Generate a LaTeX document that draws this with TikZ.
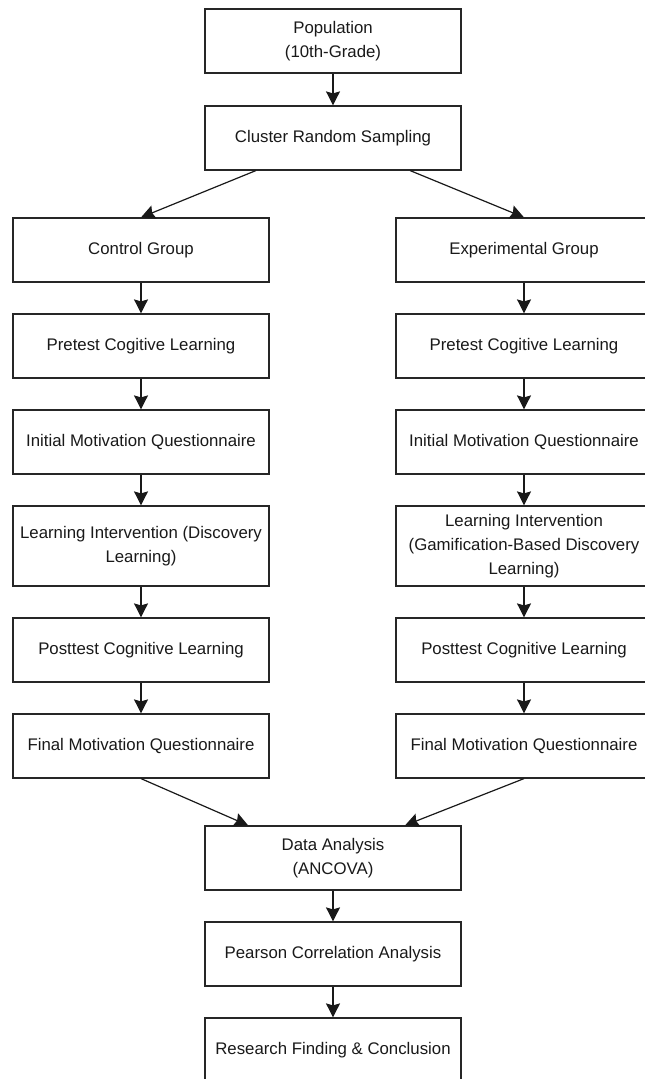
\documentclass[tikz,border=0pt]{standalone}
\usepackage{fontspec}
\setmainfont{Liberation Sans}
\usetikzlibrary{calc, arrows.meta}

\begin{document}
\begin{tikzpicture}[
  x=1pt, y=-1pt,
  font=\fontsize{16.8}{24}\selectfont,
  arrow/.style={-{Stealth[length=14pt, width=14pt, inset=2pt]}, line width=1.2pt, black!90},
  box/.style={draw=black!85, line width=1.2pt, minimum width=256pt, minimum height=64pt,
              align=center, inner sep=2pt, text=black!90},
  tallbox/.style={box, minimum height=80pt},
]
\useasboundingbox (0,0) rectangle (645,1079);
\clip (0,0) rectangle (645,1079);

% top
\node[box] (pop) at (333,41) {Population\\(10th-Grade)};
\node[box] (crs) at (333,138) {Cluster Random Sampling};

% control column
\node[box] (ctl) at (141,250) {Control Group};
\node[box] (pre1) at (141,346) {Pretest Cogitive Learning};
\node[box] (imq1) at (141,442) {Initial Motivation Questionnaire};
\node[tallbox] (int1) at (141,546) {Learning Intervention (Discovery\\Learning)};
\node[box] (post1) at (141,650) {Posttest Cognitive Learning};
\node[box] (fmq1) at (141,746) {Final Motivation Questionnaire};

% experimental column
\node[box] (exp) at (524,250) {Experimental Group};
\node[box] (pre2) at (524,346) {Pretest Cogitive Learning};
\node[box] (imq2) at (524,442) {Initial Motivation Questionnaire};
\node[tallbox] (int2) at (524,546) {Learning Intervention\\(Gamification-Based Discovery\\Learning)};
\node[box] (post2) at (524,650) {Posttest Cognitive Learning};
\node[box] (fmq2) at (524,746) {Final Motivation Questionnaire};

% analysis
\node[box] (ana) at (333,858) {Data Analysis\\(ANCOVA)};
\node[box] (pear) at (333,954) {Pearson Correlation Analysis};
\node[box] (res) at (333,1050) {Research Finding \& Conclusion};

\draw[arrow] (pop) -- (crs);
\draw[arrow] ($(crs.south west)!0.2!(crs.south east)$) -- (ctl.north);
\draw[arrow] ($(crs.south west)!0.8!(crs.south east)$) -- (exp.north);

\draw[arrow] (ctl) -- (pre1);
\draw[arrow] (pre1) -- (imq1);
\draw[arrow] (imq1) -- (int1);
\draw[arrow] (int1) -- (post1);
\draw[arrow] (post1) -- (fmq1);

\draw[arrow] (exp) -- (pre2);
\draw[arrow] (pre2) -- (imq2);
\draw[arrow] (imq2) -- (int2);
\draw[arrow] (int2) -- (post2);
\draw[arrow] (post2) -- (fmq2);

\draw[arrow] (fmq1.south) -- ($(ana.north west)!0.17!(ana.north east)$);
\draw[arrow] (fmq2.south) -- ($(ana.north west)!0.78!(ana.north east)$);
\draw[arrow] (ana) -- (pear);
\draw[arrow] (pear) -- (res);
\end{tikzpicture}
\end{document}
